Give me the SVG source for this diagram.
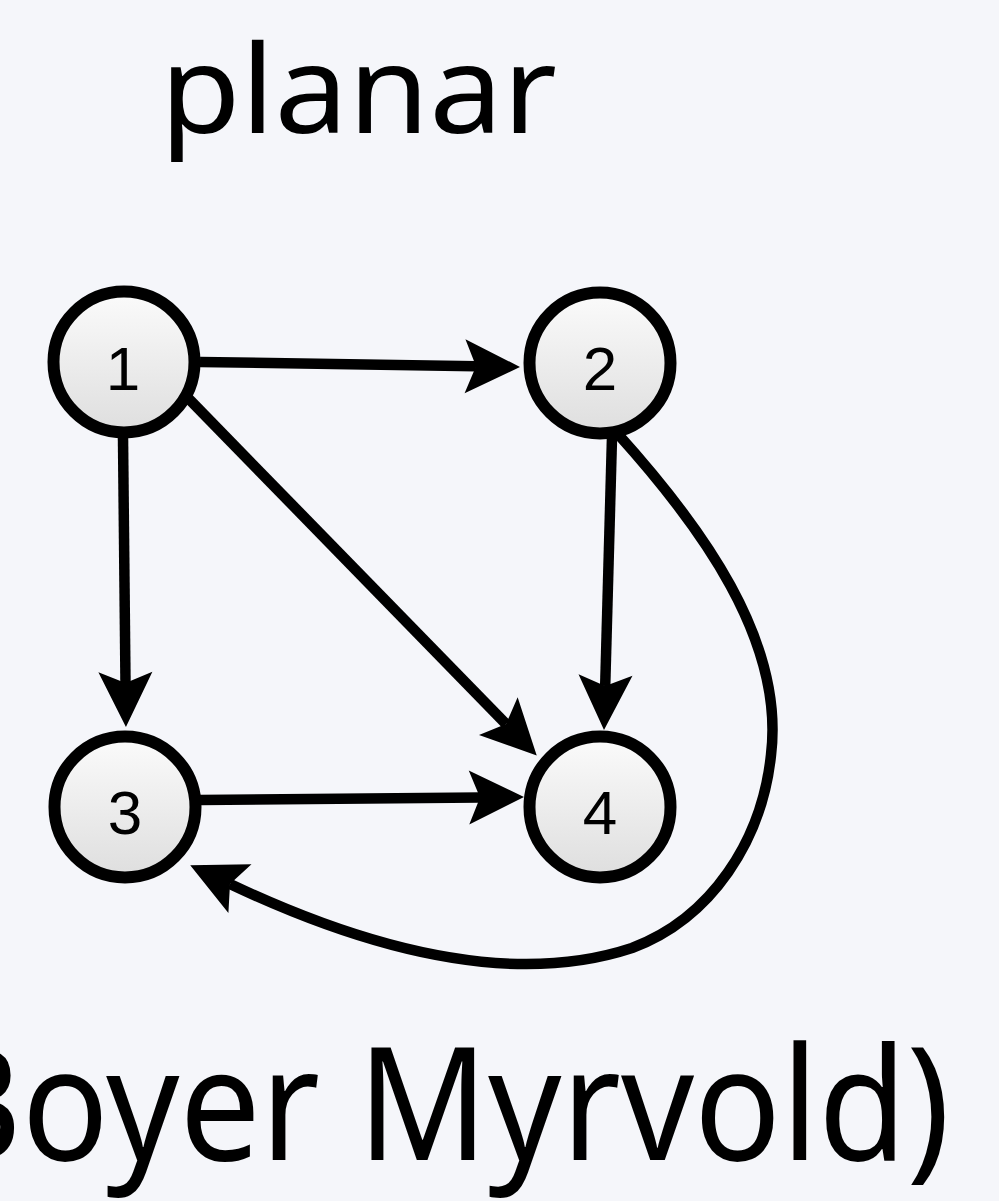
<svg xmlns="http://www.w3.org/2000/svg" width="999" height="1201" viewBox="0 0 999 1201">
<style>
.node circle{fill:url(#g);stroke:#000;stroke-width:12}
.node text{font-family:"Liberation Sans",Arial,sans-serif;font-size:62px;text-anchor:middle;fill:#000}
.edge{fill:none;stroke:#000;stroke-width:10.5;marker-end:url(#arr)}
.big{font-family:"Noto Sans","Open Sans",sans-serif;fill:#000}
</style>
<defs>
<linearGradient id="g" x1="0" y1="0" x2="0" y2="1">
<stop offset="0" stop-color="#fbfbfb"/>
<stop offset="1" stop-color="#dedede"/>
</linearGradient>
<marker id="arr" markerUnits="userSpaceOnUse" markerWidth="60" markerHeight="60" refX="11" refY="0" orient="auto" overflow="visible" viewBox="0 -30 60 60">
<path d="M0,-27 L55,0 L0,27 L11,0 z" fill="#000"/>
</marker>
</defs>
<rect width="999" height="1201" fill="#f5f6fa"/>
<text class="big" x="160" y="133" font-size="122" textLength="397" lengthAdjust="spacingAndGlyphs">planar</text>
<text class="big" x="-115" y="1160" font-size="158" textLength="1065" lengthAdjust="spacingAndGlyphs">(Boyer Myrvold)</text>
<g id="connectors">
<path class="edge" d="M200,362 L476,366.3"/>
<path class="edge" d="M123,437 L125.5,683"/>
<path class="edge" d="M188,398 L506,724"/>
<path class="edge" d="M612,437 L605.2,686"/>
<path class="edge" d="M200,800 L480,797.4"/>
<path class="edge" d="M617,433 C700,525 785,640 771,755 C762,840 712,918 632,948 C520,985 380,955 230,884"/>
</g>
<g id="node1" class="node"><circle cx="124" cy="362" r="70.5"/><text x="123" y="390">1</text></g>
<g id="node2" class="node"><circle cx="600" cy="363" r="70.5"/><text x="600" y="390">2</text></g>
<g id="node3" class="node"><circle cx="125" cy="807" r="70.5"/><text x="125" y="834">3</text></g>
<g id="node4" class="node"><circle cx="600" cy="807" r="70.5"/><text x="600" y="834">4</text></g>
</svg>
